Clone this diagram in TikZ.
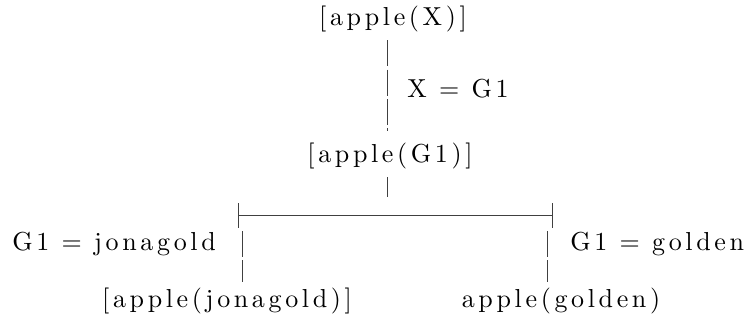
\documentclass[tikz,border=0pt]{standalone}
\usepackage{fontspec}
\setmainfont{lmroman10}[Extension=.otf, UprightFont=*-regular]
\usetikzlibrary{positioning, calc}

\begin{document}
\begin{tikzpicture}[
    x=0.75pt, y=-0.75pt,
    every node/.style={font=\fontsize{19.5}{22}\selectfont\addfontfeature{LetterSpace=14}, inner sep=0pt},
    goal/.style={anchor=center},
    bind/.style={anchor=west},
    bar/.style={line width=0.6pt, black!75, dash pattern=on 19.5pt off 2.5pt},
    rule/.style={line width=0.6pt, black!75}
]
\useasboundingbox (0,0) rectangle (745,322);
\node[goal] (top)   at (393,19)  {[apple(X)]};
\node[goal] (mid)   at (390,156) {[apple(G1)]};
\node[bind] (xg)    at (407,89)  {X = G1};
\node[goal] (jona)  at (227,301) {[apple(jonagold)]};
\node[goal] (gold)  at (561,301) {apple(golden)};
\node[bind] (gjona) at (12,244)  {G1 = jonagold};
\node[bind] (ggold) at (570,244) {G1 = golden};
\coordinate (fork) at (387,215);
\coordinate (bl) at (238,215);
\coordinate (br) at (552,215);
% goal chain
\draw[bar] ([yshift=-6]top.south -| fork) -- ([yshift=9]mid.north -| fork);
\draw[bar] ([yshift=-6]mid.south -| fork) -- ($(fork)+(0,-18)$);
% split
\draw[rule] (bl) -- (br);
\draw[rule] ($(bl)+(0,-12)$) -- ($(bl)+(0,13)$);
\draw[rule] ($(br)+(0,-12)$) -- ($(br)+(0,13)$);
\draw[bar] ($(bl)+(4,16)$) -- ([yshift=4]jona.north -| 242,0);
\draw[bar] ($(br)+(-5,16)$) -- ([yshift=4]gold.north -| 547,0);
\end{tikzpicture}
\end{document}
